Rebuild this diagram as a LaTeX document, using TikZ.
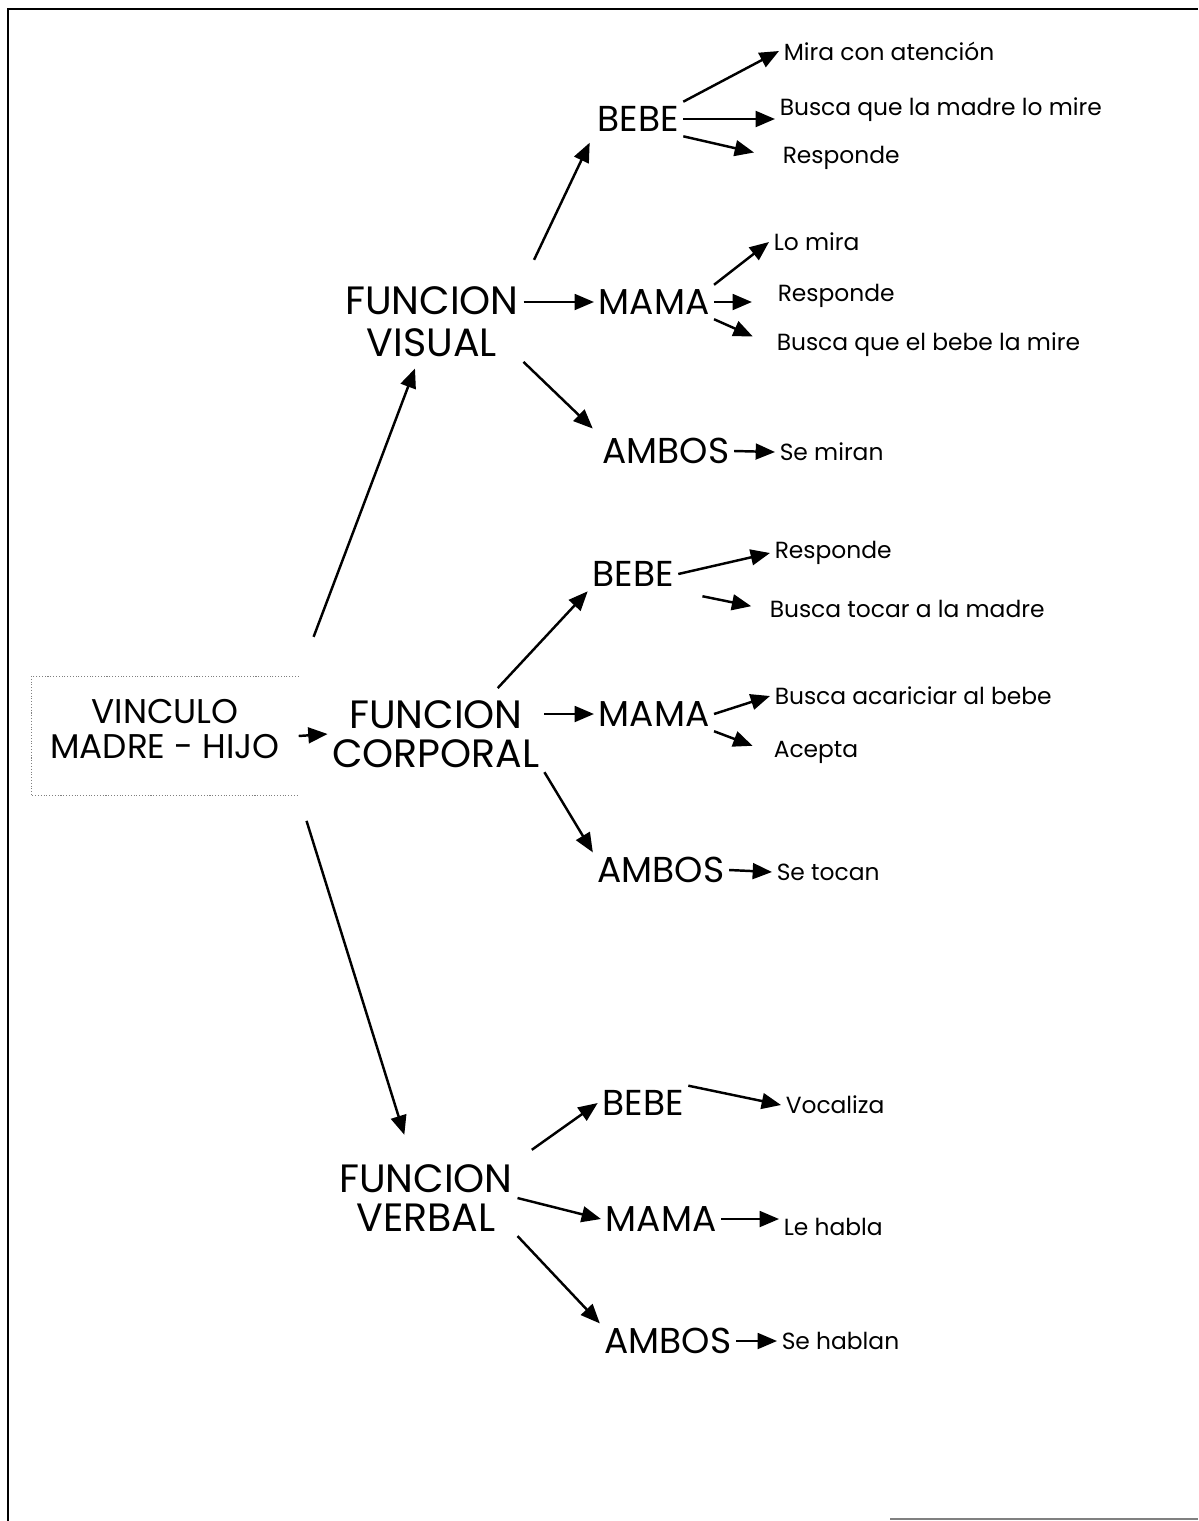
\documentclass[tikz,border=0pt]{standalone}
\usepackage{fontspec}
\setmainfont{Poppins}
\usetikzlibrary{arrows.meta}

\tikzset{
  raiz/.style={font=\fontsize{19.5}{20}\selectfont, align=center, inner sep=0pt,
               text depth=8pt, minimum width=5.3cm, minimum height=2.34cm},
  funcion/.style={font=\fontsize{22.5}{22}\selectfont, align=center, inner sep=2pt},
  actor/.style={font=\fontsize{20.5}{24}\selectfont, inner sep=2pt},
  accion/.style={font=\fontsize{13.3}{16}\selectfont, anchor=west, inner sep=2pt},
}

\begin{document}
\begin{tikzpicture}[x=0.02cm,y=-0.02cm,->,>={Triangle[length=11pt,width=9pt]},line width=1.4pt]
  \useasboundingbox (0,0) rectangle (1198,1521);

  % marco
  \draw[-,line width=1.7pt] (8,1521) -- (8,9) -- (1198,9);
  \draw[-,gray,line width=1pt] (890,1519) -- (1198,1519);

  % raiz
  \node[raiz] (vin) at (165,736) {VINCULO\\MADRE - HIJO};
  \draw[-,densely dotted,gray,line width=0.6pt]
    (vin.north east) -- (vin.north west) -- (vin.south west) -- (vin.south east);

  % funciones
  \node[funcion,font=\fontsize{22.5}{24}\selectfont] (fv) at (432,322) {FUNCION\\VISUAL};
  \node[funcion] (fc)    at (436,734)  {FUNCION\\CORPORAL};
  \node[funcion] (fverb) at (426,1198) {FUNCION\\VERBAL};

  % actores
  \node[actor] (bebeV)  at (638,119)  {BEBE};
  \node[actor] (mamaV)  at (654,302)  {MAMA};
  \node[actor] (ambosV) at (666,451)  {AMBOS};
  \node[actor] (bebeC)  at (633,574)  {BEBE};
  \node[actor] (mamaC)  at (654,714)  {MAMA};
  \node[actor] (ambosC) at (661,870)  {AMBOS};
  \node[actor] (bebeH)  at (643,1103) {BEBE};
  \node[actor] (mamaH)  at (661,1219) {MAMA};
  \node[actor] (ambosH) at (668,1341) {AMBOS};

  % acciones
  \node[accion] (miraV)     at (779,51)   {Mira con atención};
  \node[accion] (buscaV)    at (775,110)  {Busca que la madre lo mire};
  \node[accion] (respV)     at (778,158)  {Responde};
  \node[accion] (loMira)    at (769,242)  {Lo mira};
  \node[accion] (respM)     at (773,296)  {Responde};
  \node[accion] (buscaM)    at (772,345)  {Busca que el bebe la mire};
  \node[accion] (seMiran)   at (775,452)  {Se miran};
  \node[accion] (respC)     at (770,553)  {Responde};
  \node[accion] (tocar)     at (765,609)  {Busca tocar a la madre};
  \node[accion] (acariciar) at (770,696)  {Busca acariciar al bebe};
  \node[accion] (acepta)    at (769,752)  {Acepta};
  \node[accion] (seTocan)   at (772,872)  {Se tocan};
  \node[accion] (vocaliza)  at (781,1105) {Vocaliza};
  \node[accion] (leHabla)   at (779,1227) {Le habla};
  \node[accion] (seHablan)  at (777,1341) {Se hablan};

  % raiz -> funciones
  \draw[shorten <=24pt,shorten >=4pt] (vin.north east) -- (fv.250);
  \draw (vin.east) -- (fc.west);
  \draw[shorten <=15pt,shorten >=15pt] (vin.south east) -- (fverb.110);

  % funciones -> actores
  \draw[shorten <=14pt,shorten >=4pt] (fv.north east) -- (bebeV.south west);
  \draw (fv.east |- mamaV) -- (mamaV.west);
  \draw[shorten >=4pt] (fv.south east) -- (ambosV.north west);
  \draw[shorten <=6pt] (fc.35) -- (bebeC.south west);
  \draw (fc.east |- mamaC) -- (mamaC.west);
  \draw (fc.south east) -- (ambosC.north west);
  \draw[shorten <=10pt] (fverb.north east) -- (bebeH.west);
  \draw (fverb.east) -- (mamaH.west);
  \draw (fverb.south east) -- (ambosH.north west);

  % actores -> acciones
  \draw (bebeV.north east) -- (miraV.west);
  \draw (bebeV.east) -- (bebeV.east -| buscaV.west);
  \draw[shorten >=14pt] (bebeV.south east) -- (respV.west);
  \draw (mamaV.north east) -- (loMira.west);
  \draw[shorten >=12pt] (mamaV.east) -- (mamaV.east -| respM.west);
  \draw[shorten >=12pt] (mamaV.south east) -- (buscaM.west);
  \draw (ambosV.east) -- (seMiran.west);
  \draw (bebeC.east) -- (respC.west);
  \draw[shorten <=14pt,shorten >=8pt] (bebeC.south east) -- (tocar.west);
  \draw (mamaC.east) -- (acariciar.west);
  \draw[shorten >=10pt] (mamaC.south east) -- (acepta.west);
  \draw (ambosC.east) -- (seTocan.west);
  \draw (bebeH.north east) -- (vocaliza.west);
  \draw (mamaH.east) -- (mamaH.east -| leHabla.west);
  \draw (ambosH.east) -- (seHablan.west);
\end{tikzpicture}
\end{document}
